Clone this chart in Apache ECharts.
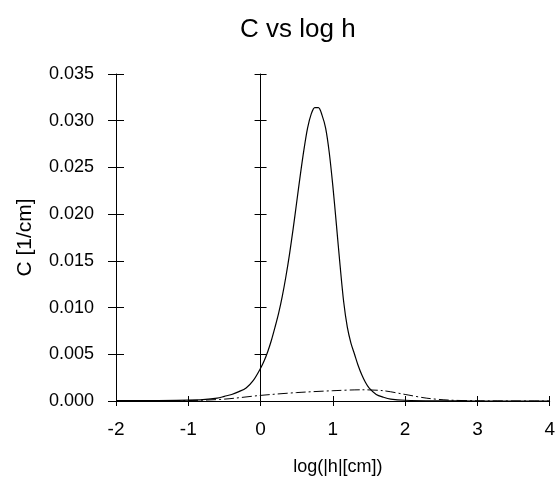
<!DOCTYPE html>
<html>
<head>
<meta charset="utf-8">
<script src="https://cdn.jsdelivr.net/npm/echarts@6/dist/echarts.min.js"></script>
<style>html,body{margin:0;padding:0;background:#fff;}#c{width:558px;height:481px;}</style>
</head>
<body>
<div id="c"></div>
<script>
const titleText = "C vs log h";
const xName = "log(|h|[cm])";
const yName = "C [1/cm]";
const xTicks = [-2, -1, 0, 1, 2, 3, 4];
const yTicks = [0.000, 0.005, 0.010, 0.015, 0.020, 0.025, 0.030, 0.035];

// solid curve: [log h, C]
const solidX = [-2, -1.5, -1, -0.8, -0.6, -0.5, -0.4, -0.3, -0.2, -0.1, 0, 0.05, 0.1, 0.15, 0.2, 0.25, 0.3, 0.35, 0.4, 0.45, 0.5, 0.55, 0.6, 0.65, 0.7, 0.75, 0.8, 0.85, 0.9, 0.95, 1.0, 1.05, 1.1, 1.15, 1.2, 1.25, 1.3, 1.35, 1.4, 1.45, 1.5, 1.6, 1.7, 1.8, 2.0, 2.5, 3, 4];
const solidC = [0.00005, 0.00005, 0.0001, 0.00015, 0.0003, 0.0005, 0.0007, 0.001, 0.0014, 0.0022, 0.0035, 0.0043, 0.0053, 0.0065, 0.0079, 0.0094, 0.0112, 0.0133, 0.0157, 0.0184, 0.0213, 0.0242, 0.0269, 0.0292, 0.0307, 0.0314, 0.0314, 0.0306, 0.0292, 0.0266, 0.0230, 0.0188, 0.0145, 0.0106, 0.0079, 0.0062, 0.0050, 0.0038, 0.0028, 0.0020, 0.0014, 0.0007, 0.0004, 0.0002, 0.00008, 0.00002, 0, 0];

// dash-dot curve
const dashX = [-2, -1, -0.5, 0, 0.5, 1, 1.4, 1.7, 2, 2.3, 2.6, 3, 4];
const dashC = [0, 0.00005, 0.0002, 0.0006, 0.0009, 0.0011, 0.0012, 0.0011, 0.0007, 0.0003, 0.0001, 0.00002, 0];

const font = "'Liberation Sans', Arial, sans-serif";
const black = '#000';

const chart = echarts.init(document.getElementById('c'));
const xBase = {
  type: 'value', min: xTicks[0], max: xTicks[xTicks.length - 1], interval: 1,
  position: 'bottom', splitLine: { show: false }
};
const yBase = {
  type: 'value', min: yTicks[0], max: yTicks[yTicks.length - 1], interval: 0.005,
  position: 'left', splitLine: { show: false }
};
chart.setOption({
  backgroundColor: '#fff',
  animation: false,
  title: {
    text: titleText, left: 235, top: 12,
    textStyle: { fontFamily: font, fontSize: 26, fontWeight: 'normal', color: black }
  },
  grid: { left: 116, right: 3, top: 74, bottom: 77, containLabel: false },
  xAxis: [
    Object.assign({}, xBase, {
      name: xName, nameLocation: 'middle', nameGap: 57,
      nameTextStyle: { fontFamily: font, fontSize: 18, color: black, padding: [0, 0, 0, 10] },
      axisLine: { show: true, onZero: false, lineStyle: { color: black, width: 1 } },
      axisTick: { show: true, inside: false, length: 5, lineStyle: { color: black } },
      axisLabel: { fontFamily: font, fontSize: 19, color: black, margin: 19 }
    }),
    Object.assign({}, xBase, {
      axisLine: { show: false, onZero: false },
      axisTick: { show: true, inside: true, length: 5, lineStyle: { color: black } },
      axisLabel: { show: false }
    })
  ],
  yAxis: [
    Object.assign({}, yBase, {
      name: yName, nameLocation: 'middle', nameGap: 80, nameRotate: 90,
      nameTextStyle: { fontFamily: font, fontSize: 21, color: black },
      axisLine: { show: true, onZero: false, lineStyle: { color: black, width: 1 } },
      axisTick: { show: true, inside: false, length: 8, lineStyle: { color: black } },
      axisLabel: { fontFamily: font, fontSize: 18, color: black, margin: 22,
        formatter: v => v.toFixed(3) }
    }),
    Object.assign({}, yBase, {
      axisLine: { show: false, onZero: false },
      axisTick: { show: true, inside: true, length: 8, lineStyle: { color: black } },
      axisLabel: { show: false }
    }),
    Object.assign({}, yBase, {
      axisLine: { show: true, onZero: true, lineStyle: { color: black, width: 1 } },
      axisTick: { show: true, inside: false, length: 6, lineStyle: { color: black } },
      axisLabel: { show: false }
    }),
    Object.assign({}, yBase, {
      axisLine: { show: false, onZero: true },
      axisTick: { show: true, inside: true, length: 6, lineStyle: { color: black } },
      axisLabel: { show: false }
    })
  ],
  series: [
    {
      type: 'line', xAxisIndex: 0, yAxisIndex: 0, smooth: 0.3, symbol: 'none',
      data: solidX.map((x, i) => [x, solidC[i]]),
      lineStyle: { color: black, width: 1.2 }
    },
    {
      type: 'line', xAxisIndex: 0, yAxisIndex: 0, smooth: 0.3, symbol: 'none',
      data: dashX.map((x, i) => [x, dashC[i]]),
      lineStyle: { color: black, width: 1, type: [10, 3, 2, 3] }
    }
  ]
});
</script>
</body>
</html>
